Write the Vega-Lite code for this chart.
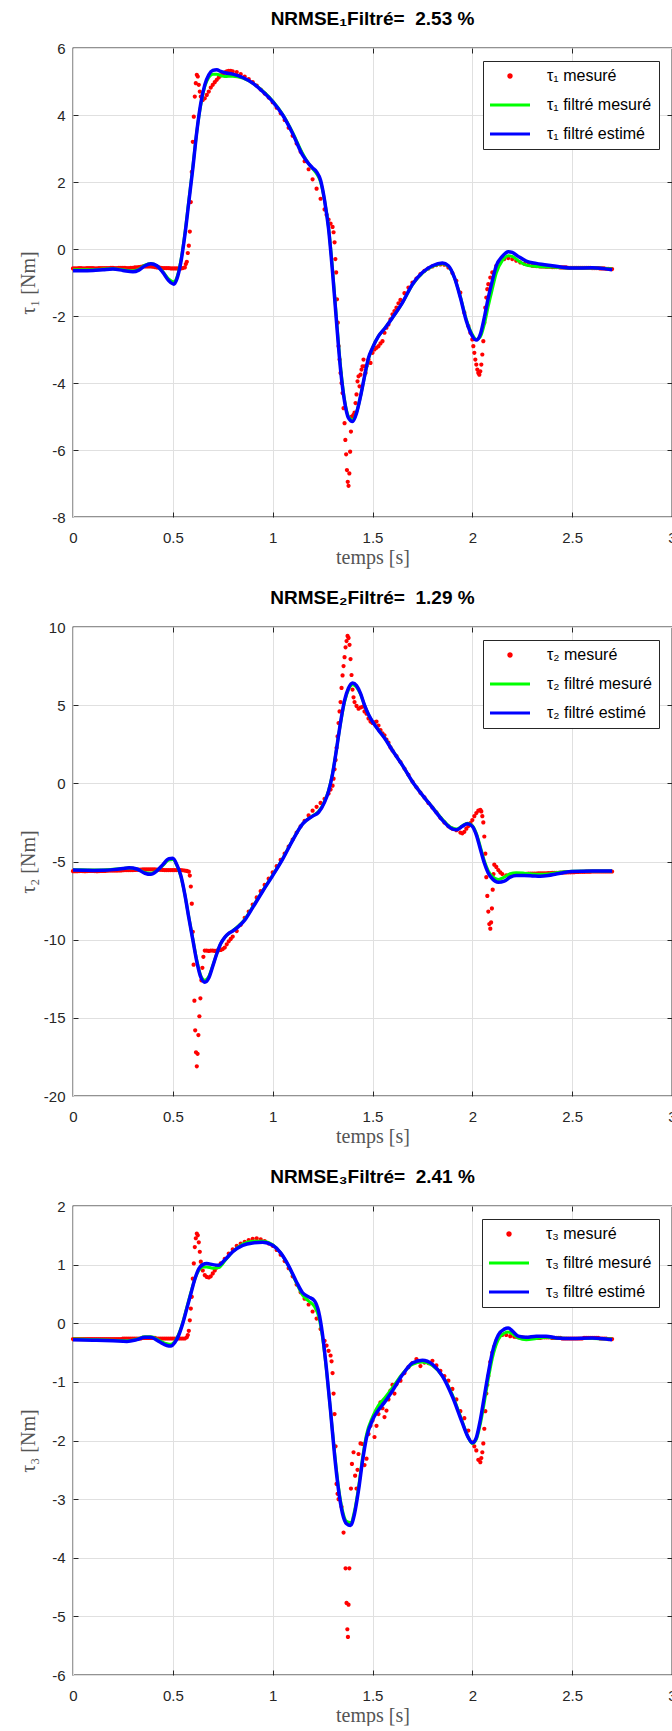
{
"$schema": "https://vega.github.io/schema/vega-lite/v6.json",
"background": "white",
"padding": {"left": 17, "top": 9, "right": 0, "bottom": 0},
"spacing": 20,
"resolve": {"scale": {"color": "independent", "shape": "independent"}, "legend": {"color": "independent", "shape": "independent"}},
"config": {
  "font": "Liberation Sans",
  "view": {"stroke": "#262626", "strokeWidth": 1.3},
  "axis": {"gridColor": "#e0e0e0", "gridWidth": 1, "domain": false, "labelColor": "#262626", "labelFont": "Liberation Sans", "labelFontSize": 15, "titleFont": "Liberation Serif", "titleFontSize": 20, "titleFontWeight": "normal", "titleColor": "#555555", "tickColor": "#262626", "labelFlush": false, "labelOverlap": false},
  "title": {"font": "Liberation Sans", "fontSize": 19, "fontWeight": "bold", "color": "#000000", "offset": 12},
  "legend": {"orient": "top-right", "offset": 13, "padding": 7, "rowPadding": 13, "labelOffset": 29, "symbolOffset": 12, "symbolSize": 100, "symbolStrokeWidth": 3, "symbolFillColor": "#ff0000", "symbolType": "M-4,0L4,0", "labelFontSize": 16, "labelFont": "Liberation Sans", "labelColor": "#000000", "strokeColor": "#262626", "fillColor": "#ffffff", "cornerRadius": 0}
},
"datasets": {
"m1": [{"t":0,"v":-0.58},{"t":0.01,"v":-0.58},{"t":0.02,"v":-0.58},{"t":0.03,"v":-0.57},{"t":0.04,"v":-0.57},{"t":0.05,"v":-0.58},{"t":0.06,"v":-0.58},{"t":0.07,"v":-0.57},{"t":0.08,"v":-0.57},{"t":0.09,"v":-0.57},{"t":0.1,"v":-0.57},{"t":0.11,"v":-0.58},{"t":0.12,"v":-0.58},{"t":0.13,"v":-0.57},{"t":0.14,"v":-0.57},{"t":0.15,"v":-0.57},{"t":0.16,"v":-0.57},{"t":0.17,"v":-0.57},{"t":0.18,"v":-0.57},{"t":0.19,"v":-0.56},{"t":0.2,"v":-0.56},{"t":0.21,"v":-0.57},{"t":0.22,"v":-0.57},{"t":0.23,"v":-0.56},{"t":0.24,"v":-0.56},{"t":0.25,"v":-0.56},{"t":0.26,"v":-0.56},{"t":0.27,"v":-0.57},{"t":0.28,"v":-0.57},{"t":0.29,"v":-0.56},{"t":0.3,"v":-0.56},{"t":0.31,"v":-0.55},{"t":0.32,"v":-0.55},{"t":0.33,"v":-0.54},{"t":0.34,"v":-0.53},{"t":0.35,"v":-0.52},{"t":0.36,"v":-0.52},{"t":0.37,"v":-0.52},{"t":0.38,"v":-0.52},{"t":0.39,"v":-0.52},{"t":0.4,"v":-0.53},{"t":0.41,"v":-0.54},{"t":0.42,"v":-0.55},{"t":0.43,"v":-0.55},{"t":0.44,"v":-0.56},{"t":0.45,"v":-0.57},{"t":0.46,"v":-0.57},{"t":0.47,"v":-0.57},{"t":0.48,"v":-0.57},{"t":0.49,"v":-0.58},{"t":0.5,"v":-0.58},{"t":0.51,"v":-0.58},{"t":0.52,"v":-0.58},{"t":0.53,"v":-0.58},{"t":0.54,"v":-0.58},{"t":0.55,"v":-0.57},{"t":0.56,"v":-0.55},{"t":0.565,"v":-0.45},{"t":0.57,"v":-0.38},{"t":0.575,"v":-0.12},{"t":0.58,"v":0.1},{"t":0.585,"v":0.52},{"t":0.59,"v":1.4},{"t":0.595,"v":2.3},{"t":0.6,"v":3.2},{"t":0.605,"v":3.95},{"t":0.61,"v":4.55},{"t":0.615,"v":4.95},{"t":0.62,"v":5.2},{"t":0.625,"v":5.15},{"t":0.63,"v":4.9},{"t":0.635,"v":4.7},{"t":0.64,"v":4.55},{"t":0.65,"v":4.45},{"t":0.66,"v":4.5},{"t":0.67,"v":4.6},{"t":0.68,"v":4.7},{"t":0.69,"v":4.82},{"t":0.7,"v":4.9},{"t":0.71,"v":4.98},{"t":0.72,"v":5.05},{"t":0.73,"v":5.12},{"t":0.74,"v":5.18},{"t":0.75,"v":5.22},{"t":0.76,"v":5.27},{"t":0.77,"v":5.3},{"t":0.78,"v":5.32},{"t":0.79,"v":5.32},{"t":0.8,"v":5.3},{"t":0.82,"v":5.28},{"t":0.84,"v":5.22},{"t":0.86,"v":5.15},{"t":0.88,"v":5.07},{"t":0.9,"v":4.98},{"t":0.92,"v":4.88},{"t":0.94,"v":4.76},{"t":0.96,"v":4.64},{"t":0.98,"v":4.52},{"t":1.0,"v":4.38},{"t":1.02,"v":4.22},{"t":1.04,"v":4.05},{"t":1.06,"v":3.85},{"t":1.08,"v":3.62},{"t":1.1,"v":3.38},{"t":1.12,"v":3.15},{"t":1.14,"v":2.9},{"t":1.16,"v":2.62},{"t":1.18,"v":2.38},{"t":1.2,"v":2.08},{"t":1.22,"v":1.8},{"t":1.24,"v":1.5},{"t":1.26,"v":1.18},{"t":1.27,"v":1.02},{"t":1.28,"v":0.88},{"t":1.29,"v":0.76},{"t":1.3,"v":0.66},{"t":1.305,"v":0.5},{"t":1.31,"v":0.2},{"t":1.314,"v":-0.3},{"t":1.318,"v":-0.7},{"t":1.322,"v":-1.5},{"t":1.326,"v":-2.2},{"t":1.33,"v":-2.9},{"t":1.335,"v":-3.3},{"t":1.34,"v":-3.7},{"t":1.345,"v":-4.0},{"t":1.35,"v":-4.3},{"t":1.355,"v":-4.75},{"t":1.36,"v":-5.2},{"t":1.364,"v":-5.7},{"t":1.368,"v":-6.13},{"t":1.372,"v":-6.6},{"t":1.376,"v":-6.95},{"t":1.38,"v":-7.07},{"t":1.384,"v":-6.7},{"t":1.388,"v":-6.05},{"t":1.392,"v":-5.45},{"t":1.396,"v":-5.0},{"t":1.4,"v":-5.0},{"t":1.405,"v":-4.95},{"t":1.41,"v":-4.88},{"t":1.415,"v":-4.6},{"t":1.42,"v":-4.34},{"t":1.425,"v":-3.95},{"t":1.43,"v":-3.8},{"t":1.435,"v":-4.1},{"t":1.44,"v":-3.75},{"t":1.445,"v":-3.6},{"t":1.45,"v":-3.5},{"t":1.455,"v":-3.3},{"t":1.46,"v":-3.5},{"t":1.465,"v":-3.7},{"t":1.47,"v":-3.5},{"t":1.48,"v":-3.3},{"t":1.49,"v":-3.4},{"t":1.5,"v":-3.1},{"t":1.51,"v":-3.0},{"t":1.52,"v":-2.95},{"t":1.53,"v":-2.9},{"t":1.54,"v":-2.82},{"t":1.55,"v":-2.75},{"t":1.56,"v":-2.5},{"t":1.57,"v":-2.35},{"t":1.58,"v":-2.25},{"t":1.59,"v":-2.1},{"t":1.6,"v":-1.95},{"t":1.61,"v":-1.85},{"t":1.62,"v":-1.75},{"t":1.63,"v":-1.62},{"t":1.64,"v":-1.52},{"t":1.66,"v":-1.32},{"t":1.68,"v":-1.15},{"t":1.7,"v":-1.0},{"t":1.72,"v":-0.88},{"t":1.74,"v":-0.75},{"t":1.76,"v":-0.65},{"t":1.78,"v":-0.58},{"t":1.8,"v":-0.52},{"t":1.82,"v":-0.48},{"t":1.84,"v":-0.46},{"t":1.86,"v":-0.47},{"t":1.88,"v":-0.55},{"t":1.9,"v":-0.72},{"t":1.92,"v":-0.95},{"t":1.94,"v":-1.3},{"t":1.96,"v":-1.9},{"t":1.98,"v":-2.3},{"t":1.99,"v":-2.5},{"t":2.0,"v":-2.7},{"t":2.005,"v":-2.9},{"t":2.01,"v":-3.1},{"t":2.015,"v":-3.3},{"t":2.02,"v":-3.45},{"t":2.025,"v":-3.6},{"t":2.03,"v":-3.7},{"t":2.035,"v":-3.75},{"t":2.04,"v":-3.65},{"t":2.045,"v":-3.45},{"t":2.05,"v":-3.15},{"t":2.055,"v":-2.75},{"t":2.06,"v":-2.2},{"t":2.065,"v":-1.75},{"t":2.07,"v":-1.45},{"t":2.075,"v":-1.2},{"t":2.08,"v":-1.05},{"t":2.09,"v":-0.85},{"t":2.1,"v":-0.7},{"t":2.12,"v":-0.5},{"t":2.14,"v":-0.38},{"t":2.16,"v":-0.3},{"t":2.18,"v":-0.27},{"t":2.2,"v":-0.3},{"t":2.22,"v":-0.35},{"t":2.24,"v":-0.4},{"t":2.26,"v":-0.44},{"t":2.28,"v":-0.47},{"t":2.3,"v":-0.5},{"t":2.31,"v":-0.5},{"t":2.32,"v":-0.51},{"t":2.33,"v":-0.51},{"t":2.34,"v":-0.52},{"t":2.35,"v":-0.52},{"t":2.36,"v":-0.52},{"t":2.37,"v":-0.53},{"t":2.38,"v":-0.53},{"t":2.39,"v":-0.53},{"t":2.4,"v":-0.54},{"t":2.41,"v":-0.54},{"t":2.42,"v":-0.54},{"t":2.43,"v":-0.54},{"t":2.44,"v":-0.55},{"t":2.45,"v":-0.55},{"t":2.46,"v":-0.55},{"t":2.47,"v":-0.55},{"t":2.48,"v":-0.56},{"t":2.49,"v":-0.56},{"t":2.5,"v":-0.56},{"t":2.51,"v":-0.56},{"t":2.52,"v":-0.56},{"t":2.53,"v":-0.56},{"t":2.54,"v":-0.56},{"t":2.55,"v":-0.56},{"t":2.56,"v":-0.56},{"t":2.57,"v":-0.56},{"t":2.58,"v":-0.56},{"t":2.59,"v":-0.56},{"t":2.6,"v":-0.57},{"t":2.61,"v":-0.57},{"t":2.62,"v":-0.57},{"t":2.63,"v":-0.57},{"t":2.64,"v":-0.58},{"t":2.65,"v":-0.58},{"t":2.66,"v":-0.58},{"t":2.67,"v":-0.59},{"t":2.68,"v":-0.59},{"t":2.69,"v":-0.6},{"t":2.7,"v":-0.6}],
"f1": [{"t":0,"v":-0.62},{"t":0.05,"v":-0.62},{"t":0.1,"v":-0.62},{"t":0.15,"v":-0.6},{"t":0.2,"v":-0.59},{"t":0.25,"v":-0.62},{"t":0.3,"v":-0.65},{"t":0.33,"v":-0.6},{"t":0.36,"v":-0.48},{"t":0.39,"v":-0.43},{"t":0.42,"v":-0.5},{"t":0.45,"v":-0.68},{"t":0.48,"v":-0.9},{"t":0.505,"v":-0.98},{"t":0.52,"v":-0.85},{"t":0.54,"v":-0.35},{"t":0.56,"v":0.45},{"t":0.58,"v":1.45},{"t":0.6,"v":2.45},{"t":0.62,"v":3.5},{"t":0.64,"v":4.3},{"t":0.66,"v":4.85},{"t":0.68,"v":5.12},{"t":0.7,"v":5.22},{"t":0.72,"v":5.22},{"t":0.74,"v":5.18},{"t":0.76,"v":5.15},{"t":0.8,"v":5.16},{"t":0.85,"v":5.1},{"t":0.9,"v":4.95},{"t":0.95,"v":4.72},{"t":1.0,"v":4.42},{"t":1.05,"v":4.02},{"t":1.1,"v":3.48},{"t":1.15,"v":2.85},{"t":1.18,"v":2.55},{"t":1.2,"v":2.4},{"t":1.22,"v":2.25},{"t":1.24,"v":2.0},{"t":1.26,"v":1.45},{"t":1.28,"v":0.65},{"t":1.3,"v":-0.6},{"t":1.32,"v":-2.1},{"t":1.34,"v":-3.5},{"t":1.36,"v":-4.5},{"t":1.38,"v":-5.0},{"t":1.4,"v":-5.1},{"t":1.42,"v":-4.88},{"t":1.44,"v":-4.4},{"t":1.46,"v":-3.82},{"t":1.48,"v":-3.28},{"t":1.5,"v":-2.95},{"t":1.53,"v":-2.6},{"t":1.56,"v":-2.38},{"t":1.6,"v":-2.05},{"t":1.65,"v":-1.6},{"t":1.7,"v":-1.07},{"t":1.75,"v":-0.72},{"t":1.8,"v":-0.52},{"t":1.85,"v":-0.44},{"t":1.88,"v":-0.52},{"t":1.91,"v":-0.85},{"t":1.94,"v":-1.42},{"t":1.97,"v":-2.1},{"t":2.0,"v":-2.55},{"t":2.02,"v":-2.7},{"t":2.04,"v":-2.62},{"t":2.06,"v":-2.25},{"t":2.08,"v":-1.7},{"t":2.1,"v":-1.2},{"t":2.12,"v":-0.72},{"t":2.15,"v":-0.35},{"t":2.18,"v":-0.2},{"t":2.2,"v":-0.22},{"t":2.23,"v":-0.35},{"t":2.27,"v":-0.48},{"t":2.32,"v":-0.52},{"t":2.4,"v":-0.54},{"t":2.5,"v":-0.57},{"t":2.6,"v":-0.57},{"t":2.7,"v":-0.6}],
"e1": [{"t":0,"v":-0.65},{"t":0.05,"v":-0.65},{"t":0.1,"v":-0.64},{"t":0.15,"v":-0.62},{"t":0.2,"v":-0.6},{"t":0.25,"v":-0.64},{"t":0.3,"v":-0.68},{"t":0.33,"v":-0.63},{"t":0.36,"v":-0.5},{"t":0.39,"v":-0.44},{"t":0.42,"v":-0.5},{"t":0.45,"v":-0.7},{"t":0.48,"v":-0.95},{"t":0.505,"v":-1.05},{"t":0.52,"v":-0.9},{"t":0.54,"v":-0.4},{"t":0.56,"v":0.4},{"t":0.58,"v":1.4},{"t":0.6,"v":2.4},{"t":0.62,"v":3.5},{"t":0.64,"v":4.35},{"t":0.66,"v":4.9},{"t":0.68,"v":5.2},{"t":0.7,"v":5.33},{"t":0.72,"v":5.35},{"t":0.74,"v":5.3},{"t":0.76,"v":5.26},{"t":0.8,"v":5.22},{"t":0.85,"v":5.12},{"t":0.9,"v":4.95},{"t":0.95,"v":4.7},{"t":1.0,"v":4.4},{"t":1.05,"v":4.0},{"t":1.1,"v":3.45},{"t":1.15,"v":2.8},{"t":1.18,"v":2.55},{"t":1.2,"v":2.42},{"t":1.22,"v":2.3},{"t":1.24,"v":2.05},{"t":1.26,"v":1.45},{"t":1.28,"v":0.6},{"t":1.3,"v":-0.7},{"t":1.32,"v":-2.2},{"t":1.34,"v":-3.6},{"t":1.36,"v":-4.55},{"t":1.38,"v":-5.05},{"t":1.4,"v":-5.15},{"t":1.42,"v":-4.9},{"t":1.44,"v":-4.4},{"t":1.46,"v":-3.8},{"t":1.48,"v":-3.25},{"t":1.5,"v":-2.95},{"t":1.53,"v":-2.6},{"t":1.56,"v":-2.38},{"t":1.6,"v":-2.05},{"t":1.65,"v":-1.6},{"t":1.7,"v":-1.05},{"t":1.75,"v":-0.7},{"t":1.8,"v":-0.5},{"t":1.85,"v":-0.42},{"t":1.88,"v":-0.5},{"t":1.91,"v":-0.85},{"t":1.94,"v":-1.45},{"t":1.97,"v":-2.15},{"t":2.0,"v":-2.6},{"t":2.02,"v":-2.72},{"t":2.04,"v":-2.55},{"t":2.06,"v":-2.05},{"t":2.08,"v":-1.45},{"t":2.1,"v":-0.95},{"t":2.12,"v":-0.5},{"t":2.15,"v":-0.22},{"t":2.18,"v":-0.08},{"t":2.2,"v":-0.1},{"t":2.23,"v":-0.22},{"t":2.27,"v":-0.36},{"t":2.32,"v":-0.43},{"t":2.4,"v":-0.5},{"t":2.5,"v":-0.57},{"t":2.6,"v":-0.56},{"t":2.7,"v":-0.62}],
"m2": [{"t":0,"v":-5.62},{"t":0.01,"v":-5.62},{"t":0.02,"v":-5.62},{"t":0.03,"v":-5.61},{"t":0.04,"v":-5.6},{"t":0.05,"v":-5.61},{"t":0.06,"v":-5.62},{"t":0.07,"v":-5.61},{"t":0.08,"v":-5.6},{"t":0.09,"v":-5.6},{"t":0.1,"v":-5.6},{"t":0.11,"v":-5.61},{"t":0.12,"v":-5.62},{"t":0.13,"v":-5.61},{"t":0.14,"v":-5.6},{"t":0.15,"v":-5.6},{"t":0.16,"v":-5.6},{"t":0.17,"v":-5.59},{"t":0.18,"v":-5.58},{"t":0.19,"v":-5.58},{"t":0.2,"v":-5.58},{"t":0.21,"v":-5.58},{"t":0.22,"v":-5.58},{"t":0.23,"v":-5.57},{"t":0.24,"v":-5.57},{"t":0.25,"v":-5.56},{"t":0.26,"v":-5.55},{"t":0.27,"v":-5.55},{"t":0.28,"v":-5.55},{"t":0.29,"v":-5.55},{"t":0.3,"v":-5.55},{"t":0.31,"v":-5.54},{"t":0.32,"v":-5.53},{"t":0.33,"v":-5.52},{"t":0.34,"v":-5.52},{"t":0.35,"v":-5.51},{"t":0.36,"v":-5.5},{"t":0.37,"v":-5.5},{"t":0.38,"v":-5.5},{"t":0.39,"v":-5.5},{"t":0.4,"v":-5.5},{"t":0.41,"v":-5.51},{"t":0.42,"v":-5.52},{"t":0.43,"v":-5.52},{"t":0.44,"v":-5.53},{"t":0.45,"v":-5.54},{"t":0.46,"v":-5.55},{"t":0.47,"v":-5.55},{"t":0.48,"v":-5.55},{"t":0.49,"v":-5.55},{"t":0.5,"v":-5.55},{"t":0.51,"v":-5.55},{"t":0.52,"v":-5.55},{"t":0.53,"v":-5.55},{"t":0.54,"v":-5.55},{"t":0.55,"v":-5.56},{"t":0.56,"v":-5.58},{"t":0.57,"v":-5.6},{"t":0.58,"v":-5.65},{"t":0.585,"v":-5.9},{"t":0.59,"v":-6.6},{"t":0.595,"v":-7.7},{"t":0.6,"v":-9.5},{"t":0.604,"v":-11.6},{"t":0.608,"v":-13.9},{"t":0.612,"v":-15.8},{"t":0.616,"v":-17.2},{"t":0.62,"v":-18.1},{"t":0.624,"v":-17.3},{"t":0.628,"v":-16.1},{"t":0.633,"v":-14.9},{"t":0.638,"v":-13.75},{"t":0.643,"v":-12.6},{"t":0.648,"v":-11.8},{"t":0.653,"v":-11.1},{"t":0.66,"v":-10.7},{"t":0.67,"v":-10.7},{"t":0.68,"v":-10.72},{"t":0.69,"v":-10.7},{"t":0.7,"v":-10.7},{"t":0.71,"v":-10.72},{"t":0.72,"v":-10.7},{"t":0.73,"v":-10.68},{"t":0.74,"v":-10.66},{"t":0.75,"v":-10.6},{"t":0.76,"v":-10.5},{"t":0.77,"v":-10.3},{"t":0.78,"v":-10.1},{"t":0.79,"v":-9.95},{"t":0.8,"v":-9.8},{"t":0.82,"v":-9.45},{"t":0.84,"v":-9.05},{"t":0.86,"v":-8.6},{"t":0.88,"v":-8.2},{"t":0.9,"v":-7.75},{"t":0.92,"v":-7.3},{"t":0.94,"v":-6.9},{"t":0.96,"v":-6.5},{"t":0.98,"v":-6.1},{"t":1.0,"v":-5.7},{"t":1.02,"v":-5.3},{"t":1.04,"v":-4.9},{"t":1.06,"v":-4.5},{"t":1.08,"v":-4.05},{"t":1.1,"v":-3.6},{"t":1.12,"v":-3.15},{"t":1.14,"v":-2.75},{"t":1.16,"v":-2.4},{"t":1.18,"v":-2.05},{"t":1.2,"v":-1.75},{"t":1.22,"v":-1.5},{"t":1.24,"v":-1.25},{"t":1.26,"v":-1.0},{"t":1.28,"v":-0.65},{"t":1.29,"v":-0.4},{"t":1.3,"v":-0.15},{"t":1.305,"v":0.3},{"t":1.31,"v":0.9},{"t":1.315,"v":1.5},{"t":1.32,"v":2.27},{"t":1.325,"v":3.0},{"t":1.33,"v":3.86},{"t":1.335,"v":4.6},{"t":1.34,"v":5.2},{"t":1.345,"v":6.1},{"t":1.35,"v":6.9},{"t":1.355,"v":7.5},{"t":1.36,"v":8.07},{"t":1.365,"v":8.7},{"t":1.37,"v":9.1},{"t":1.375,"v":9.43},{"t":1.38,"v":9.3},{"t":1.385,"v":8.86},{"t":1.39,"v":7.95},{"t":1.395,"v":6.93},{"t":1.4,"v":6.0},{"t":1.405,"v":5.5},{"t":1.41,"v":5.2},{"t":1.42,"v":4.95},{"t":1.43,"v":4.77},{"t":1.44,"v":4.85},{"t":1.45,"v":4.9},{"t":1.46,"v":4.6},{"t":1.47,"v":4.45},{"t":1.48,"v":4.15},{"t":1.49,"v":3.95},{"t":1.5,"v":3.86},{"t":1.51,"v":3.9},{"t":1.52,"v":3.95},{"t":1.53,"v":3.7},{"t":1.54,"v":3.4},{"t":1.55,"v":3.2},{"t":1.56,"v":3.07},{"t":1.57,"v":2.8},{"t":1.58,"v":2.6},{"t":1.59,"v":2.3},{"t":1.6,"v":2.1},{"t":1.62,"v":1.75},{"t":1.64,"v":1.36},{"t":1.66,"v":0.95},{"t":1.68,"v":0.55},{"t":1.7,"v":0.11},{"t":1.72,"v":-0.25},{"t":1.74,"v":-0.6},{"t":1.76,"v":-0.9},{"t":1.78,"v":-1.25},{"t":1.8,"v":-1.55},{"t":1.82,"v":-1.85},{"t":1.84,"v":-2.2},{"t":1.86,"v":-2.5},{"t":1.88,"v":-2.75},{"t":1.9,"v":-2.9},{"t":1.92,"v":-3.0},{"t":1.94,"v":-3.15},{"t":1.95,"v":-3.2},{"t":1.96,"v":-3.1},{"t":1.97,"v":-2.9},{"t":1.98,"v":-2.73},{"t":1.99,"v":-2.55},{"t":2.0,"v":-2.35},{"t":2.01,"v":-2.1},{"t":2.02,"v":-1.9},{"t":2.03,"v":-1.75},{"t":2.04,"v":-1.7},{"t":2.045,"v":-1.8},{"t":2.05,"v":-2.1},{"t":2.055,"v":-2.5},{"t":2.06,"v":-3.4},{"t":2.065,"v":-4.5},{"t":2.07,"v":-6.0},{"t":2.075,"v":-7.2},{"t":2.08,"v":-8.2},{"t":2.085,"v":-9.0},{"t":2.09,"v":-9.3},{"t":2.094,"v":-8.9},{"t":2.098,"v":-8.0},{"t":2.102,"v":-6.8},{"t":2.106,"v":-5.8},{"t":2.11,"v":-5.2},{"t":2.12,"v":-5.35},{"t":2.13,"v":-5.55},{"t":2.14,"v":-5.7},{"t":2.15,"v":-5.8},{"t":2.17,"v":-5.88},{"t":2.19,"v":-5.9},{"t":2.21,"v":-5.85},{"t":2.23,"v":-5.82},{"t":2.25,"v":-5.8},{"t":2.26,"v":-5.8},{"t":2.27,"v":-5.79},{"t":2.28,"v":-5.78},{"t":2.29,"v":-5.78},{"t":2.3,"v":-5.77},{"t":2.31,"v":-5.77},{"t":2.32,"v":-5.77},{"t":2.33,"v":-5.76},{"t":2.34,"v":-5.76},{"t":2.35,"v":-5.76},{"t":2.36,"v":-5.75},{"t":2.37,"v":-5.75},{"t":2.38,"v":-5.74},{"t":2.39,"v":-5.74},{"t":2.4,"v":-5.73},{"t":2.41,"v":-5.73},{"t":2.42,"v":-5.72},{"t":2.43,"v":-5.72},{"t":2.44,"v":-5.71},{"t":2.45,"v":-5.71},{"t":2.46,"v":-5.7},{"t":2.47,"v":-5.7},{"t":2.48,"v":-5.69},{"t":2.49,"v":-5.69},{"t":2.5,"v":-5.68},{"t":2.51,"v":-5.68},{"t":2.52,"v":-5.67},{"t":2.53,"v":-5.67},{"t":2.54,"v":-5.66},{"t":2.55,"v":-5.66},{"t":2.56,"v":-5.66},{"t":2.57,"v":-5.65},{"t":2.58,"v":-5.65},{"t":2.59,"v":-5.65},{"t":2.6,"v":-5.64},{"t":2.61,"v":-5.64},{"t":2.62,"v":-5.64},{"t":2.63,"v":-5.64},{"t":2.64,"v":-5.64},{"t":2.65,"v":-5.64},{"t":2.66,"v":-5.64},{"t":2.67,"v":-5.64},{"t":2.68,"v":-5.64},{"t":2.69,"v":-5.64},{"t":2.7,"v":-5.64}],
"f2": [{"t":0,"v":-5.52},{"t":0.05,"v":-5.53},{"t":0.1,"v":-5.55},{"t":0.15,"v":-5.54},{"t":0.2,"v":-5.5},{"t":0.25,"v":-5.45},{"t":0.28,"v":-5.42},{"t":0.32,"v":-5.48},{"t":0.36,"v":-5.7},{"t":0.39,"v":-5.75},{"t":0.42,"v":-5.58},{"t":0.45,"v":-5.25},{"t":0.48,"v":-4.9},{"t":0.5,"v":-4.88},{"t":0.52,"v":-5.25},{"t":0.54,"v":-5.95},{"t":0.56,"v":-7.1},{"t":0.58,"v":-8.55},{"t":0.6,"v":-9.95},{"t":0.62,"v":-11.3},{"t":0.64,"v":-12.3},{"t":0.66,"v":-12.6},{"t":0.68,"v":-12.35},{"t":0.7,"v":-11.65},{"t":0.72,"v":-10.9},{"t":0.74,"v":-10.25},{"t":0.76,"v":-9.85},{"t":0.78,"v":-9.6},{"t":0.8,"v":-9.42},{"t":0.83,"v":-9.1},{"t":0.86,"v":-8.7},{"t":0.9,"v":-7.9},{"t":0.95,"v":-6.88},{"t":1.0,"v":-5.88},{"t":1.05,"v":-4.82},{"t":1.1,"v":-3.62},{"t":1.15,"v":-2.6},{"t":1.2,"v":-2.08},{"t":1.23,"v":-1.8},{"t":1.26,"v":-1.15},{"t":1.28,"v":-0.45},{"t":1.3,"v":0.65},{"t":1.32,"v":2.2},{"t":1.34,"v":3.85},{"t":1.36,"v":5.2},{"t":1.38,"v":6.0},{"t":1.4,"v":6.3},{"t":1.42,"v":6.15},{"t":1.44,"v":5.7},{"t":1.46,"v":5.0},{"t":1.48,"v":4.4},{"t":1.5,"v":3.95},{"t":1.53,"v":3.42},{"t":1.56,"v":2.92},{"t":1.6,"v":2.12},{"t":1.65,"v":1.15},{"t":1.7,"v":0.1},{"t":1.75,"v":-0.75},{"t":1.8,"v":-1.52},{"t":1.85,"v":-2.3},{"t":1.89,"v":-2.8},{"t":1.92,"v":-2.92},{"t":1.95,"v":-2.72},{"t":1.975,"v":-2.55},{"t":2.0,"v":-2.7},{"t":2.02,"v":-3.2},{"t":2.04,"v":-4.05},{"t":2.06,"v":-4.95},{"t":2.08,"v":-5.6},{"t":2.1,"v":-5.95},{"t":2.13,"v":-6.15},{"t":2.16,"v":-6.0},{"t":2.19,"v":-5.78},{"t":2.22,"v":-5.72},{"t":2.26,"v":-5.75},{"t":2.3,"v":-5.8},{"t":2.34,"v":-5.82},{"t":2.38,"v":-5.8},{"t":2.42,"v":-5.72},{"t":2.46,"v":-5.66},{"t":2.5,"v":-5.62},{"t":2.6,"v":-5.6},{"t":2.7,"v":-5.6}],
"e2": [{"t":0,"v":-5.55},{"t":0.05,"v":-5.56},{"t":0.1,"v":-5.57},{"t":0.15,"v":-5.56},{"t":0.2,"v":-5.52},{"t":0.25,"v":-5.45},{"t":0.28,"v":-5.4},{"t":0.32,"v":-5.48},{"t":0.36,"v":-5.75},{"t":0.39,"v":-5.82},{"t":0.42,"v":-5.6},{"t":0.45,"v":-5.2},{"t":0.48,"v":-4.82},{"t":0.5,"v":-4.8},{"t":0.52,"v":-5.2},{"t":0.54,"v":-5.9},{"t":0.56,"v":-7.1},{"t":0.58,"v":-8.6},{"t":0.6,"v":-10.0},{"t":0.62,"v":-11.4},{"t":0.64,"v":-12.4},{"t":0.66,"v":-12.72},{"t":0.68,"v":-12.45},{"t":0.7,"v":-11.7},{"t":0.72,"v":-10.9},{"t":0.74,"v":-10.25},{"t":0.76,"v":-9.85},{"t":0.78,"v":-9.6},{"t":0.8,"v":-9.45},{"t":0.83,"v":-9.15},{"t":0.86,"v":-8.75},{"t":0.9,"v":-7.95},{"t":0.95,"v":-6.9},{"t":1.0,"v":-5.9},{"t":1.05,"v":-4.85},{"t":1.1,"v":-3.65},{"t":1.15,"v":-2.6},{"t":1.2,"v":-2.1},{"t":1.23,"v":-1.85},{"t":1.26,"v":-1.2},{"t":1.28,"v":-0.5},{"t":1.3,"v":0.6},{"t":1.32,"v":2.2},{"t":1.34,"v":3.9},{"t":1.36,"v":5.3},{"t":1.38,"v":6.1},{"t":1.4,"v":6.42},{"t":1.42,"v":6.25},{"t":1.44,"v":5.75},{"t":1.46,"v":5.0},{"t":1.48,"v":4.4},{"t":1.5,"v":3.95},{"t":1.53,"v":3.4},{"t":1.56,"v":2.9},{"t":1.6,"v":2.1},{"t":1.65,"v":1.15},{"t":1.7,"v":0.1},{"t":1.75,"v":-0.75},{"t":1.8,"v":-1.55},{"t":1.85,"v":-2.35},{"t":1.89,"v":-2.85},{"t":1.92,"v":-2.97},{"t":1.95,"v":-2.75},{"t":1.975,"v":-2.58},{"t":2.0,"v":-2.75},{"t":2.02,"v":-3.3},{"t":2.04,"v":-4.2},{"t":2.06,"v":-5.1},{"t":2.08,"v":-5.75},{"t":2.1,"v":-6.1},{"t":2.13,"v":-6.32},{"t":2.16,"v":-6.25},{"t":2.19,"v":-6.0},{"t":2.22,"v":-5.9},{"t":2.26,"v":-5.9},{"t":2.3,"v":-5.92},{"t":2.34,"v":-5.95},{"t":2.38,"v":-5.9},{"t":2.42,"v":-5.8},{"t":2.46,"v":-5.7},{"t":2.5,"v":-5.64},{"t":2.6,"v":-5.6},{"t":2.7,"v":-5.6}],
"m3": [{"t":0,"v":-0.27},{"t":0.01,"v":-0.27},{"t":0.02,"v":-0.27},{"t":0.03,"v":-0.27},{"t":0.04,"v":-0.27},{"t":0.05,"v":-0.27},{"t":0.06,"v":-0.27},{"t":0.07,"v":-0.27},{"t":0.08,"v":-0.27},{"t":0.09,"v":-0.27},{"t":0.1,"v":-0.27},{"t":0.11,"v":-0.27},{"t":0.12,"v":-0.27},{"t":0.13,"v":-0.27},{"t":0.14,"v":-0.27},{"t":0.15,"v":-0.27},{"t":0.16,"v":-0.27},{"t":0.17,"v":-0.27},{"t":0.18,"v":-0.27},{"t":0.19,"v":-0.27},{"t":0.2,"v":-0.27},{"t":0.21,"v":-0.27},{"t":0.22,"v":-0.27},{"t":0.23,"v":-0.27},{"t":0.24,"v":-0.27},{"t":0.25,"v":-0.26},{"t":0.26,"v":-0.26},{"t":0.27,"v":-0.26},{"t":0.28,"v":-0.26},{"t":0.29,"v":-0.26},{"t":0.3,"v":-0.26},{"t":0.31,"v":-0.26},{"t":0.32,"v":-0.26},{"t":0.33,"v":-0.26},{"t":0.34,"v":-0.26},{"t":0.35,"v":-0.25},{"t":0.36,"v":-0.25},{"t":0.37,"v":-0.25},{"t":0.38,"v":-0.25},{"t":0.39,"v":-0.25},{"t":0.4,"v":-0.25},{"t":0.41,"v":-0.25},{"t":0.42,"v":-0.26},{"t":0.43,"v":-0.26},{"t":0.44,"v":-0.26},{"t":0.45,"v":-0.26},{"t":0.46,"v":-0.26},{"t":0.47,"v":-0.26},{"t":0.48,"v":-0.26},{"t":0.49,"v":-0.26},{"t":0.5,"v":-0.26},{"t":0.51,"v":-0.26},{"t":0.52,"v":-0.26},{"t":0.53,"v":-0.26},{"t":0.54,"v":-0.26},{"t":0.55,"v":-0.26},{"t":0.56,"v":-0.26},{"t":0.57,"v":-0.24},{"t":0.575,"v":-0.2},{"t":0.58,"v":-0.13},{"t":0.585,"v":0.05},{"t":0.59,"v":0.25},{"t":0.595,"v":0.45},{"t":0.6,"v":0.76},{"t":0.605,"v":1.02},{"t":0.61,"v":1.3},{"t":0.615,"v":1.45},{"t":0.62,"v":1.53},{"t":0.625,"v":1.5},{"t":0.63,"v":1.38},{"t":0.635,"v":1.22},{"t":0.64,"v":1.05},{"t":0.645,"v":0.98},{"t":0.65,"v":0.9},{"t":0.66,"v":0.82},{"t":0.67,"v":0.79},{"t":0.68,"v":0.78},{"t":0.69,"v":0.8},{"t":0.7,"v":0.85},{"t":0.71,"v":0.9},{"t":0.72,"v":0.95},{"t":0.73,"v":0.98},{"t":0.74,"v":1.02},{"t":0.76,"v":1.1},{"t":0.78,"v":1.19},{"t":0.8,"v":1.26},{"t":0.82,"v":1.32},{"t":0.84,"v":1.36},{"t":0.86,"v":1.39},{"t":0.88,"v":1.42},{"t":0.9,"v":1.44},{"t":0.92,"v":1.45},{"t":0.94,"v":1.43},{"t":0.96,"v":1.4},{"t":0.98,"v":1.36},{"t":1.0,"v":1.32},{"t":1.02,"v":1.25},{"t":1.04,"v":1.17},{"t":1.06,"v":1.06},{"t":1.08,"v":0.94},{"t":1.1,"v":0.8},{"t":1.12,"v":0.66},{"t":1.14,"v":0.53},{"t":1.16,"v":0.42},{"t":1.18,"v":0.32},{"t":1.2,"v":0.2},{"t":1.22,"v":0.08},{"t":1.24,"v":-0.1},{"t":1.26,"v":-0.3},{"t":1.27,"v":-0.38},{"t":1.28,"v":-0.47},{"t":1.29,"v":-0.55},{"t":1.295,"v":-0.65},{"t":1.3,"v":-0.85},{"t":1.305,"v":-1.2},{"t":1.31,"v":-1.55},{"t":1.315,"v":-2.1},{"t":1.32,"v":-2.74},{"t":1.325,"v":-2.91},{"t":1.33,"v":-3.0},{"t":1.345,"v":-3.13},{"t":1.355,"v":-3.57},{"t":1.365,"v":-4.18},{"t":1.37,"v":-4.77},{"t":1.374,"v":-5.22},{"t":1.377,"v":-5.35},{"t":1.38,"v":-4.8},{"t":1.384,"v":-4.18},{"t":1.388,"v":-3.42},{"t":1.392,"v":-2.82},{"t":1.397,"v":-2.4},{"t":1.405,"v":-2.2},{"t":1.413,"v":-2.6},{"t":1.42,"v":-2.82},{"t":1.425,"v":-2.5},{"t":1.43,"v":-2.23},{"t":1.44,"v":-2.05},{"t":1.45,"v":-2.06},{"t":1.46,"v":-2.42},{"t":1.47,"v":-2.31},{"t":1.48,"v":-1.89},{"t":1.49,"v":-1.75},{"t":1.5,"v":-1.66},{"t":1.51,"v":-1.94},{"t":1.52,"v":-1.75},{"t":1.53,"v":-1.55},{"t":1.54,"v":-1.35},{"t":1.55,"v":-1.45},{"t":1.56,"v":-1.6},{"t":1.57,"v":-1.49},{"t":1.58,"v":-1.3},{"t":1.59,"v":-1.15},{"t":1.6,"v":-1.05},{"t":1.61,"v":-1.2},{"t":1.62,"v":-1.04},{"t":1.64,"v":-0.98},{"t":1.66,"v":-0.85},{"t":1.68,"v":-0.75},{"t":1.7,"v":-0.68},{"t":1.72,"v":-0.61},{"t":1.74,"v":-0.73},{"t":1.76,"v":-0.67},{"t":1.78,"v":-0.68},{"t":1.8,"v":-0.64},{"t":1.82,"v":-0.72},{"t":1.84,"v":-0.81},{"t":1.86,"v":-0.9},{"t":1.88,"v":-0.98},{"t":1.9,"v":-1.12},{"t":1.92,"v":-1.3},{"t":1.94,"v":-1.5},{"t":1.96,"v":-1.62},{"t":1.98,"v":-1.83},{"t":2.0,"v":-2.03},{"t":2.01,"v":-2.1},{"t":2.02,"v":-2.17},{"t":2.03,"v":-2.33},{"t":2.04,"v":-2.37},{"t":2.045,"v":-2.3},{"t":2.05,"v":-2.2},{"t":2.055,"v":-2.05},{"t":2.06,"v":-1.8},{"t":2.065,"v":-1.5},{"t":2.07,"v":-1.2},{"t":2.075,"v":-1.05},{"t":2.08,"v":-0.9},{"t":2.09,"v":-0.66},{"t":2.1,"v":-0.5},{"t":2.11,"v":-0.4},{"t":2.12,"v":-0.3},{"t":2.13,"v":-0.24},{"t":2.15,"v":-0.2},{"t":2.17,"v":-0.2},{"t":2.19,"v":-0.22},{"t":2.21,"v":-0.23},{"t":2.22,"v":-0.23},{"t":2.23,"v":-0.24},{"t":2.24,"v":-0.24},{"t":2.25,"v":-0.24},{"t":2.26,"v":-0.25},{"t":2.27,"v":-0.25},{"t":2.28,"v":-0.25},{"t":2.29,"v":-0.25},{"t":2.3,"v":-0.25},{"t":2.31,"v":-0.25},{"t":2.32,"v":-0.25},{"t":2.33,"v":-0.25},{"t":2.34,"v":-0.25},{"t":2.35,"v":-0.24},{"t":2.36,"v":-0.24},{"t":2.37,"v":-0.24},{"t":2.38,"v":-0.24},{"t":2.39,"v":-0.24},{"t":2.4,"v":-0.25},{"t":2.41,"v":-0.25},{"t":2.42,"v":-0.25},{"t":2.43,"v":-0.25},{"t":2.44,"v":-0.25},{"t":2.45,"v":-0.26},{"t":2.46,"v":-0.26},{"t":2.47,"v":-0.26},{"t":2.48,"v":-0.26},{"t":2.49,"v":-0.26},{"t":2.5,"v":-0.26},{"t":2.51,"v":-0.26},{"t":2.52,"v":-0.26},{"t":2.53,"v":-0.26},{"t":2.54,"v":-0.26},{"t":2.55,"v":-0.26},{"t":2.56,"v":-0.25},{"t":2.57,"v":-0.25},{"t":2.58,"v":-0.25},{"t":2.59,"v":-0.25},{"t":2.6,"v":-0.25},{"t":2.61,"v":-0.25},{"t":2.62,"v":-0.25},{"t":2.63,"v":-0.25},{"t":2.64,"v":-0.26},{"t":2.65,"v":-0.26},{"t":2.66,"v":-0.26},{"t":2.67,"v":-0.26},{"t":2.68,"v":-0.27},{"t":2.69,"v":-0.27},{"t":2.7,"v":-0.27}],
"f3": [{"t":0,"v":-0.27},{"t":0.1,"v":-0.28},{"t":0.2,"v":-0.29},{"t":0.27,"v":-0.3},{"t":0.32,"v":-0.27},{"t":0.36,"v":-0.23},{"t":0.39,"v":-0.23},{"t":0.43,"v":-0.29},{"t":0.47,"v":-0.35},{"t":0.49,"v":-0.36},{"t":0.51,"v":-0.31},{"t":0.53,"v":-0.18},{"t":0.55,"v":0.02},{"t":0.57,"v":0.27},{"t":0.59,"v":0.52},{"t":0.61,"v":0.75},{"t":0.63,"v":0.9},{"t":0.65,"v":0.96},{"t":0.67,"v":0.96},{"t":0.7,"v":0.94},{"t":0.73,"v":0.95},{"t":0.76,"v":1.06},{"t":0.8,"v":1.22},{"t":0.85,"v":1.35},{"t":0.9,"v":1.4},{"t":0.95,"v":1.4},{"t":1.0,"v":1.34},{"t":1.04,"v":1.2},{"t":1.08,"v":0.97},{"t":1.12,"v":0.68},{"t":1.15,"v":0.48},{"t":1.18,"v":0.38},{"t":1.21,"v":0.28},{"t":1.23,"v":0.12},{"t":1.25,"v":-0.25},{"t":1.27,"v":-0.82},{"t":1.29,"v":-1.5},{"t":1.31,"v":-2.2},{"t":1.33,"v":-2.8},{"t":1.35,"v":-3.2},{"t":1.37,"v":-3.38},{"t":1.39,"v":-3.4},{"t":1.41,"v":-3.2},{"t":1.43,"v":-2.8},{"t":1.45,"v":-2.3},{"t":1.47,"v":-1.9},{"t":1.5,"v":-1.6},{"t":1.53,"v":-1.4},{"t":1.56,"v":-1.28},{"t":1.6,"v":-1.1},{"t":1.65,"v":-0.86},{"t":1.7,"v":-0.7},{"t":1.75,"v":-0.66},{"t":1.8,"v":-0.72},{"t":1.85,"v":-0.9},{"t":1.9,"v":-1.22},{"t":1.95,"v":-1.68},{"t":1.98,"v":-1.95},{"t":2.0,"v":-2.05},{"t":2.02,"v":-1.98},{"t":2.04,"v":-1.72},{"t":2.06,"v":-1.35},{"t":2.08,"v":-0.95},{"t":2.1,"v":-0.6},{"t":2.13,"v":-0.28},{"t":2.16,"v":-0.17},{"t":2.18,"v":-0.15},{"t":2.2,"v":-0.18},{"t":2.23,"v":-0.25},{"t":2.27,"v":-0.28},{"t":2.32,"v":-0.26},{"t":2.37,"v":-0.24},{"t":2.42,"v":-0.25},{"t":2.5,"v":-0.26},{"t":2.6,"v":-0.26},{"t":2.7,"v":-0.27}],
"e3": [{"t":0,"v":-0.28},{"t":0.1,"v":-0.29},{"t":0.2,"v":-0.3},{"t":0.27,"v":-0.31},{"t":0.32,"v":-0.28},{"t":0.36,"v":-0.24},{"t":0.39,"v":-0.24},{"t":0.43,"v":-0.31},{"t":0.47,"v":-0.38},{"t":0.49,"v":-0.39},{"t":0.51,"v":-0.33},{"t":0.53,"v":-0.2},{"t":0.55,"v":0.0},{"t":0.57,"v":0.25},{"t":0.59,"v":0.5},{"t":0.61,"v":0.75},{"t":0.63,"v":0.93},{"t":0.65,"v":1.0},{"t":0.67,"v":1.02},{"t":0.7,"v":1.0},{"t":0.73,"v":0.99},{"t":0.76,"v":1.08},{"t":0.8,"v":1.22},{"t":0.85,"v":1.33},{"t":0.9,"v":1.37},{"t":0.95,"v":1.38},{"t":1.0,"v":1.33},{"t":1.04,"v":1.2},{"t":1.08,"v":0.98},{"t":1.12,"v":0.7},{"t":1.15,"v":0.52},{"t":1.18,"v":0.45},{"t":1.21,"v":0.38},{"t":1.23,"v":0.2},{"t":1.25,"v":-0.2},{"t":1.27,"v":-0.8},{"t":1.29,"v":-1.5},{"t":1.31,"v":-2.25},{"t":1.33,"v":-2.85},{"t":1.35,"v":-3.25},{"t":1.37,"v":-3.42},{"t":1.39,"v":-3.45},{"t":1.41,"v":-3.25},{"t":1.43,"v":-2.85},{"t":1.45,"v":-2.35},{"t":1.47,"v":-1.95},{"t":1.5,"v":-1.65},{"t":1.53,"v":-1.48},{"t":1.56,"v":-1.35},{"t":1.6,"v":-1.15},{"t":1.65,"v":-0.88},{"t":1.7,"v":-0.68},{"t":1.75,"v":-0.63},{"t":1.8,"v":-0.7},{"t":1.85,"v":-0.9},{"t":1.9,"v":-1.25},{"t":1.95,"v":-1.7},{"t":1.98,"v":-1.95},{"t":2.0,"v":-2.04},{"t":2.02,"v":-1.95},{"t":2.04,"v":-1.65},{"t":2.06,"v":-1.25},{"t":2.08,"v":-0.85},{"t":2.1,"v":-0.5},{"t":2.13,"v":-0.2},{"t":2.16,"v":-0.1},{"t":2.18,"v":-0.08},{"t":2.2,"v":-0.13},{"t":2.23,"v":-0.22},{"t":2.27,"v":-0.24},{"t":2.32,"v":-0.22},{"t":2.37,"v":-0.22},{"t":2.42,"v":-0.25},{"t":2.5,"v":-0.26},{"t":2.6,"v":-0.25},{"t":2.7,"v":-0.28}]
},
"vconcat": [
{
  "width": 599, "height": 469,
  "title": {"text": "NRMSE₁Filtré=\u00a0 2.53 %"},
  "layer": [
    {"data": {"name": "m1"}, "mark": {"type": "point", "filled": true, "size": 306, "opacity": 1},
     "encoding": {
       "x": {"field": "t", "type": "quantitative", "scale": {"domain": [0, 3], "nice": false, "zero": false}, "axis": {"title": "temps [s]", "values": [0, 0.5, 1, 1.5, 2, 2.5, 3], "labelExpr": "'' + datum.value", "ticks": false, "labelPadding": 13, "titlePadding": 2, "grid": true}},
       "y": {"field": "v", "type": "quantitative", "scale": {"domain": [-8, 6], "nice": false, "zero": false}, "axis": {"title": "τ₁ [Nm]", "values": [-8, -6, -4, -2, 0, 2, 4, 6], "labelExpr": "'' + datum.value", "ticks": false, "labelPadding": 8, "minExtent": 30, "maxExtent": 30, "titlePadding": 5, "grid": true}},
       "color": {"datum": "τ₁ mesuré", "scale": {"domain": ["τ₁ mesuré", "τ₁ filtré mesuré", "τ₁ filtré estimé"], "range": ["#ff0000", "#00ff00", "#0000ff"]}, "legend": {"title": null}},
       "shape": {"datum": "τ₁ mesuré", "scale": {"domain": ["τ₁ mesuré", "τ₁ filtré mesuré", "τ₁ filtré estimé"], "range": ["M0.24,0A0.24,0.24 0 1,1 -0.24,0A0.24,0.24 0 1,1 0.24,0Z", "M-4,0L4,0", "M-4,0L4,0"]}, "legend": {"title": null}}
     }},
    {"data": {"name": "f1"}, "mark": {"type": "line", "strokeWidth": 3, "interpolate": "monotone"},
     "encoding": {
       "x": {"field": "t", "type": "quantitative", "scale": {"domain": [0, 3], "nice": false, "zero": false}, "axis": {"orient": "bottom", "labels": false, "domain": false, "grid": false, "ticks": true, "tickSize": -5, "title": null, "values": [0.5, 1, 1.5, 2, 2.5]}},
       "y": {"field": "v", "type": "quantitative", "scale": {"domain": [-8, 6], "nice": false, "zero": false}, "axis": {"orient": "left", "labels": false, "domain": false, "grid": false, "ticks": true, "tickSize": -5, "title": null, "values": [-6, -4, -2, 0, 2, 4]}},
       "color": {"datum": "τ₁ filtré mesuré", "scale": {"domain": ["τ₁ mesuré", "τ₁ filtré mesuré", "τ₁ filtré estimé"], "range": ["#ff0000", "#00ff00", "#0000ff"]}, "legend": {"title": null}}
     }},
    {"data": {"name": "e1"}, "mark": {"type": "line", "strokeWidth": 3.5, "interpolate": "monotone"},
     "encoding": {
       "x": {"field": "t", "type": "quantitative", "scale": {"domain": [0, 3], "nice": false, "zero": false}, "axis": {"orient": "top", "labels": false, "domain": false, "grid": false, "ticks": true, "tickSize": -5, "title": null, "values": [0.5, 1, 1.5, 2, 2.5]}},
       "y": {"field": "v", "type": "quantitative", "scale": {"domain": [-8, 6], "nice": false, "zero": false}, "axis": {"orient": "right", "labels": false, "domain": false, "grid": false, "ticks": true, "tickSize": -5, "title": null, "values": [-6, -4, -2, 0, 2, 4]}},
       "color": {"datum": "τ₁ filtré estimé", "scale": {"domain": ["τ₁ mesuré", "τ₁ filtré mesuré", "τ₁ filtré estimé"], "range": ["#ff0000", "#00ff00", "#0000ff"]}, "legend": {"title": null}}
     }}
  ],
  "resolve": {"axis": {"x": "independent", "y": "independent"}}
},
{
  "width": 599, "height": 469,
  "title": {"text": "NRMSE₂Filtré=\u00a0 1.29 %"},
  "layer": [
    {"data": {"name": "m2"}, "mark": {"type": "point", "filled": true, "size": 306, "opacity": 1},
     "encoding": {
       "x": {"field": "t", "type": "quantitative", "scale": {"domain": [0, 3], "nice": false, "zero": false}, "axis": {"title": "temps [s]", "values": [0, 0.5, 1, 1.5, 2, 2.5, 3], "labelExpr": "'' + datum.value", "ticks": false, "labelPadding": 13, "titlePadding": 2, "grid": true}},
       "y": {"field": "v", "type": "quantitative", "scale": {"domain": [-20, 10], "nice": false, "zero": false}, "axis": {"title": "τ₂ [Nm]", "values": [-20, -15, -10, -5, 0, 5, 10], "labelExpr": "'' + datum.value", "ticks": false, "labelPadding": 8, "minExtent": 30, "maxExtent": 30, "titlePadding": 5, "grid": true}},
       "color": {"datum": "τ₂ mesuré", "scale": {"domain": ["τ₂ mesuré", "τ₂ filtré mesuré", "τ₂ filtré estimé"], "range": ["#ff0000", "#00ff00", "#0000ff"]}, "legend": {"title": null}},
       "shape": {"datum": "τ₂ mesuré", "scale": {"domain": ["τ₂ mesuré", "τ₂ filtré mesuré", "τ₂ filtré estimé"], "range": ["M0.24,0A0.24,0.24 0 1,1 -0.24,0A0.24,0.24 0 1,1 0.24,0Z", "M-4,0L4,0", "M-4,0L4,0"]}, "legend": {"title": null}}
     }},
    {"data": {"name": "f2"}, "mark": {"type": "line", "strokeWidth": 3, "interpolate": "monotone"},
     "encoding": {
       "x": {"field": "t", "type": "quantitative", "scale": {"domain": [0, 3], "nice": false, "zero": false}, "axis": {"orient": "bottom", "labels": false, "domain": false, "grid": false, "ticks": true, "tickSize": -5, "title": null, "values": [0.5, 1, 1.5, 2, 2.5]}},
       "y": {"field": "v", "type": "quantitative", "scale": {"domain": [-20, 10], "nice": false, "zero": false}, "axis": {"orient": "left", "labels": false, "domain": false, "grid": false, "ticks": true, "tickSize": -5, "title": null, "values": [-15, -10, -5, 0, 5]}},
       "color": {"datum": "τ₂ filtré mesuré", "scale": {"domain": ["τ₂ mesuré", "τ₂ filtré mesuré", "τ₂ filtré estimé"], "range": ["#ff0000", "#00ff00", "#0000ff"]}, "legend": {"title": null}}
     }},
    {"data": {"name": "e2"}, "mark": {"type": "line", "strokeWidth": 3.5, "interpolate": "monotone"},
     "encoding": {
       "x": {"field": "t", "type": "quantitative", "scale": {"domain": [0, 3], "nice": false, "zero": false}, "axis": {"orient": "top", "labels": false, "domain": false, "grid": false, "ticks": true, "tickSize": -5, "title": null, "values": [0.5, 1, 1.5, 2, 2.5]}},
       "y": {"field": "v", "type": "quantitative", "scale": {"domain": [-20, 10], "nice": false, "zero": false}, "axis": {"orient": "right", "labels": false, "domain": false, "grid": false, "ticks": true, "tickSize": -5, "title": null, "values": [-15, -10, -5, 0, 5]}},
       "color": {"datum": "τ₂ filtré estimé", "scale": {"domain": ["τ₂ mesuré", "τ₂ filtré mesuré", "τ₂ filtré estimé"], "range": ["#ff0000", "#00ff00", "#0000ff"]}, "legend": {"title": null}}
     }}
  ],
  "resolve": {"axis": {"x": "independent", "y": "independent"}}
},
{
  "width": 599, "height": 469,
  "title": {"text": "NRMSE₃Filtré=\u00a0 2.41 %"},
  "layer": [
    {"data": {"name": "m3"}, "mark": {"type": "point", "filled": true, "size": 306, "opacity": 1},
     "encoding": {
       "x": {"field": "t", "type": "quantitative", "scale": {"domain": [0, 3], "nice": false, "zero": false}, "axis": {"title": "temps [s]", "values": [0, 0.5, 1, 1.5, 2, 2.5, 3], "labelExpr": "'' + datum.value", "ticks": false, "labelPadding": 13, "titlePadding": 2, "grid": true}},
       "y": {"field": "v", "type": "quantitative", "scale": {"domain": [-6, 2], "nice": false, "zero": false}, "axis": {"title": "τ₃ [Nm]", "values": [-6, -5, -4, -3, -2, -1, 0, 1, 2], "labelExpr": "'' + datum.value", "ticks": false, "labelPadding": 8, "minExtent": 30, "maxExtent": 30, "titlePadding": 5, "grid": true}},
       "color": {"datum": "τ₃ mesuré", "scale": {"domain": ["τ₃ mesuré", "τ₃ filtré mesuré", "τ₃ filtré estimé"], "range": ["#ff0000", "#00ff00", "#0000ff"]}, "legend": {"title": null}},
       "shape": {"datum": "τ₃ mesuré", "scale": {"domain": ["τ₃ mesuré", "τ₃ filtré mesuré", "τ₃ filtré estimé"], "range": ["M0.24,0A0.24,0.24 0 1,1 -0.24,0A0.24,0.24 0 1,1 0.24,0Z", "M-4,0L4,0", "M-4,0L4,0"]}, "legend": {"title": null}}
     }},
    {"data": {"name": "f3"}, "mark": {"type": "line", "strokeWidth": 3, "interpolate": "monotone"},
     "encoding": {
       "x": {"field": "t", "type": "quantitative", "scale": {"domain": [0, 3], "nice": false, "zero": false}, "axis": {"orient": "bottom", "labels": false, "domain": false, "grid": false, "ticks": true, "tickSize": -5, "title": null, "values": [0.5, 1, 1.5, 2, 2.5]}},
       "y": {"field": "v", "type": "quantitative", "scale": {"domain": [-6, 2], "nice": false, "zero": false}, "axis": {"orient": "left", "labels": false, "domain": false, "grid": false, "ticks": true, "tickSize": -5, "title": null, "values": [-5, -4, -3, -2, -1, 0, 1]}},
       "color": {"datum": "τ₃ filtré mesuré", "scale": {"domain": ["τ₃ mesuré", "τ₃ filtré mesuré", "τ₃ filtré estimé"], "range": ["#ff0000", "#00ff00", "#0000ff"]}, "legend": {"title": null}}
     }},
    {"data": {"name": "e3"}, "mark": {"type": "line", "strokeWidth": 3.5, "interpolate": "monotone"},
     "encoding": {
       "x": {"field": "t", "type": "quantitative", "scale": {"domain": [0, 3], "nice": false, "zero": false}, "axis": {"orient": "top", "labels": false, "domain": false, "grid": false, "ticks": true, "tickSize": -5, "title": null, "values": [0.5, 1, 1.5, 2, 2.5]}},
       "y": {"field": "v", "type": "quantitative", "scale": {"domain": [-6, 2], "nice": false, "zero": false}, "axis": {"orient": "right", "labels": false, "domain": false, "grid": false, "ticks": true, "tickSize": -5, "title": null, "values": [-5, -4, -3, -2, -1, 0, 1]}},
       "color": {"datum": "τ₃ filtré estimé", "scale": {"domain": ["τ₃ mesuré", "τ₃ filtré mesuré", "τ₃ filtré estimé"], "range": ["#ff0000", "#00ff00", "#0000ff"]}, "legend": {"title": null}}
     }}
  ],
  "resolve": {"axis": {"x": "independent", "y": "independent"}}
}
]
}
